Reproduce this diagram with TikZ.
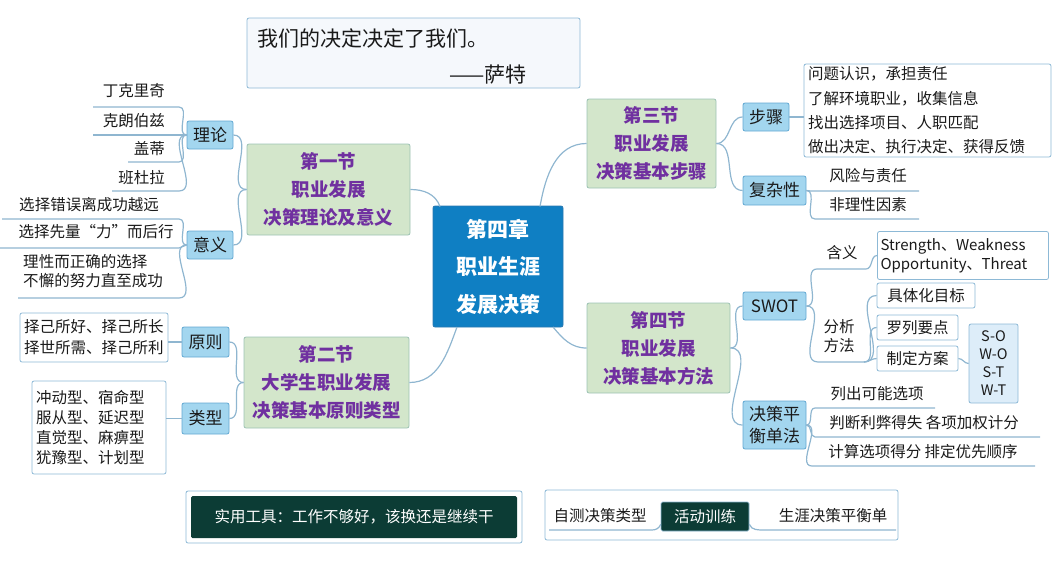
\documentclass[tikz,border=0pt]{standalone}
\usepackage{fontspec}
\setmainfont{Noto Sans CJK SC}
\usetikzlibrary{calc}
\definecolor{lc}{HTML}{8FB6D0}
\definecolor{secf}{HTML}{D3E6CB}
\definecolor{secb}{HTML}{9DC3B4}
\definecolor{purp}{HTML}{7030A0}
\definecolor{lvf}{HTML}{A3D6EF}
\definecolor{lvb}{HTML}{62A8D2}
\definecolor{lbb}{HTML}{8DB9D6}
\definecolor{cenf}{HTML}{0F7FC3}
\definecolor{cenb}{HTML}{2A78B0}
\definecolor{dkg}{HTML}{0C3C35}
\definecolor{qf}{HTML}{F5F8FC}
\definecolor{sof}{HTML}{DDEDF9}
\definecolor{txt}{HTML}{1A1A1A}
\begin{document}
\begin{tikzpicture}[x=1pt,y=-1pt,
  con/.style={draw=lc, line width=1.2pt},
  cen/.style={draw=cenb, fill=cenf, rounded corners=2pt, line width=0.8pt, text=white, align=center, inner sep=0pt, font=\fontsize{21}{37.5}\selectfont\bfseries},
  sec/.style={draw=secb, fill=secf, rounded corners=2pt, line width=0.8pt, text=purp, align=center, inner sep=0pt, font=\fontsize{18.5}{28}\selectfont\bfseries},
  lvl/.style={draw=lvb, fill=lvf, rounded corners=2pt, line width=0.8pt, text=txt, align=center, inner sep=0pt, font=\fontsize{17}{21}\selectfont},
  lbox/.style={draw=lbb, fill=white, rounded corners=2pt, line width=0.8pt, text=txt, inner sep=0pt, font=\fontsize{15.5}{20}\selectfont},
  lt/.style={text=txt, inner sep=0pt, font=\fontsize{15.5}{19}\selectfont},
]
\useasboundingbox (0,0) rectangle (1059,565);

% quote
\node[draw=lbb, fill=qf, rounded corners=2pt, line width=0.8pt, minimum width=333pt, minimum height=70pt, inner sep=0pt] (Q) at (413.5,53) {};
\node[anchor=west, inner sep=0pt, text=txt, font=\fontsize{21}{24}\selectfont] (Q1) at (257,38) {我们的决定决定了我们。};
\node[anchor=east, inner sep=0pt, text=txt, font=\fontsize{21}{24}\selectfont] (Q2) at (527,75) {——萨特};

% center and sections
\node[cen, minimum width=130pt, minimum height=121pt] (C) at (498,266.5) {第四章\\职业生涯\\发展决策};
\node[sec, minimum width=163pt, minimum height=91pt] (S1) at (328.5,189.5) {第一节\\职业发展\\决策理论及意义};
\node[sec, minimum width=165pt, minimum height=91pt] (S2) at (326.5,382.5) {第二节\\大学生职业发展\\决策基本原则类型};
\node[sec, minimum width=129pt, minimum height=89pt] (S3) at (651.5,143.5) {第三节\\职业发展\\决策基本步骤};
\node[sec, minimum width=143pt, minimum height=90pt] (S4) at (658.5,348) {第四节\\职业发展\\决策基本方法};

\coordinate (C1) at (440,206.5);
\coordinate (C2) at (457,327);
\coordinate (C3) at (540,206.5);
\coordinate (C4) at (553,327);
\draw[con] (S1.east) to[out=0,in=110] (C1);
\draw[con] (C2) to[out=250,in=0] (S2.east);
\draw[con] (C3) to[out=80,in=180] (S3.west);
\draw[con] (C4) to[out=-50,in=180] (S4.west);

% level 2
\node[lvl, minimum width=46pt, minimum height=28pt] (L1) at (210,135) {理论};
\node[lvl, minimum width=46pt, minimum height=28pt] (L2) at (210,245) {意义};
\node[lvl, minimum width=47pt, minimum height=30pt] (L3) at (205.5,342) {原则};
\node[lvl, minimum width=47pt, minimum height=31pt] (L4) at (205.5,418.5) {类型};
\node[lvl, minimum width=46pt, minimum height=28pt] (R1) at (766,117) {步骤};
\node[lvl, minimum width=63pt, minimum height=29pt] (R2) at (774.5,190.5) {复杂性};
\node[lvl, minimum width=63pt, minimum height=28pt] (R3) at (774.5,306) {SWOT};
\node[lvl, minimum width=63pt, minimum height=48pt, font=\fontsize{17}{22}\selectfont] (R4) at (774.5,425) {决策平\\衡单法};

\draw[con] (S1.west) to[out=180,in=0] (L1.east);
\draw[con] (S1.west) to[out=180,in=0] (L2.east);
\draw[con] (S2.west) to[out=180,in=0] (L3.east);
\draw[con] (S2.west) to[out=180,in=0] (L4.east);
\draw[con] (S3.east) to[out=0,in=180] (R1.west);
\draw[con] (S3.east) to[out=0,in=180] (R2.west);
\draw[con] (S4.east) to[out=0,in=180] (R3.west);
\draw[con] (S4.east) to[out=0,in=180] (R4.west);

% 理论 leaves
\node[lt, anchor=east] (a1) at (165,91) {丁克里奇};
\node[lt, anchor=east] (a2) at (165,121) {克朗伯兹};
\node[lt, anchor=east] (a3) at (165,149) {盖蒂};
\node[lt, anchor=east] (a4) at (165,178) {班杜拉};
\coordinate (a1s) at (93,107); \coordinate (a1e) at (179,107);
\coordinate (a2s) at (93,135); \coordinate (a2e) at (179,135);
\coordinate (a3s) at (128,162); \coordinate (a3e) at (179,162);
\coordinate (a4s) at (112,191); \coordinate (a4e) at (179,191);
\draw[con] (a1s) -- (a1e) to[out=0,in=180] (L1.west);
\draw[con] (a2s) -- (a2e) to[out=0,in=180] (L1.west);
\draw[con] (a3s) -- (a3e) to[out=0,in=180] (L1.west);
\draw[con] (a4s) -- (a4e) to[out=0,in=180] (L1.west);

% 意义 leaves
\node[lt] (b1) at (89,205) {选择错误离成功越远};
\node[lt] (b2) at (96,232) {选择先量“力”而后行};
\node[lt, align=left] (b3) at (93,271.5) {理性而正确的选择\\不懈的努力直至成功};
\coordinate (b1s) at (2,219); \coordinate (b1e) at (179,219);
\coordinate (b2s) at (0,248); \coordinate (b2e) at (179,248);
\coordinate (b3s) at (18,298); \coordinate (b3e) at (179,298);
\draw[con] (b1s) -- (b1e) to[out=0,in=180] (L2.west);
\draw[con] (b2s) -- (b2e) to[out=0,in=180] (L2.west);
\draw[con] (b3s) -- (b3e) to[out=0,in=180] (L2.west);

% 原则, 类型 boxes
\node[lbox, text width=140pt, inner xsep=4pt, align=left, minimum height=49pt, font=\fontsize{15.5}{21}\selectfont] (P1) at (94,337.5) {择己所好、择己所长\\择世所需、择己所利};
\node[lbox, text width=126pt, inner xsep=4pt, align=left, minimum height=93pt, font=\fontsize{15.5}{19.7}\selectfont] (P2) at (99,427.5) {冲动型、宿命型\\服从型、延迟型\\直觉型、麻痹型\\犹豫型、计划型};
\draw[con] (L3.west) -- (L3.west -| P1.east);
\draw[con] (L4.west) -- (L4.west -| P2.east);

% 步骤 box
\node[lbox, text width=239pt, inner xsep=4pt, align=left, minimum height=93pt, font=\fontsize{15.5}{24.3}\selectfont] (K1) at (927.5,110.5) {问题认识，承担责任\\了解环境职业，收集信息\\找出选择项目、人职匹配\\做出决定、执行决定、获得反馈};
\draw[con] (R1.east) -- (R1.east -| K1.west);

% 复杂性 leaves
\node[lt] (c1) at (868,176) {风险与责任};
\node[lt] (c2) at (868,205) {非理性因素};
\coordinate (c1s) at (811,191); \coordinate (c1e) at (919,191);
\coordinate (c2s) at (815,219); \coordinate (c2e) at (919,219);
\draw[con] (R2.east) to[out=0,in=180] (c1s) -- (c1e);
\draw[con] (R2.east) to[out=0,in=180] (c2s) -- (c2e);

% SWOT
\node[lt] (d1) at (842,253) {含义};
\coordinate (d1s) at (817,269); \coordinate (d1e) at (866,269);
\node[lbox, text width=165pt, inner xsep=3pt, align=left, minimum height=48pt, font=\fontsize{15}{19}\selectfont] (D1) at (963,255.5) {Strength、Weakness\\Opportunity、Threat};
\draw[con] (R3.east) to[out=0,in=180] (d1s) -- (d1e) to[out=0,in=180] (D1.west);

\node[lt, align=left] (d2) at (839,336) {分析\\方法};
\coordinate (d2s) at (818,362); \coordinate (d2e) at (864,362);
\draw[con] (R3.east) to[out=0,in=180] (d2s) -- (d2e);
\node[lbox, minimum width=98pt, minimum height=25pt] (E1) at (926,295.5) {具体化目标};
\node[lbox, minimum width=81pt, minimum height=25pt] (E2) at (917.5,327.5) {罗列要点};
\node[lbox, minimum width=81pt, minimum height=25pt] (E3) at (917.5,358.5) {制定方案};
\draw[con] (d2e) to[out=0,in=180] (E1.west);
\draw[con] (d2e) to[out=0,in=180] (E2.west);
\draw[con] (d2e) to[out=0,in=180] (E3.west);
\node[lbox, fill=sof, align=center, minimum width=49pt, minimum height=79pt, font=\fontsize{14.5}{18}\selectfont] (SO) at (993.5,363.5) {S-O\\W-O\\S-T\\W-T};
\draw[con] (E3.east) to[out=0,in=180] (SO.west);

% 决策平衡单法 leaves
\node[lt] (f1) at (877,394) {列出可能选项};
\node[lt] (f2) at (924,423) {判断利弊得失 各项加权计分};
\node[lt] (f3) at (923,452) {计算选项得分 排定优先顺序};
\coordinate (f1s) at (815,408); \coordinate (f1e) at (935,408);
\coordinate (f2s) at (815,437); \coordinate (f2e) at (1040,437);
\coordinate (f3s) at (812,466); \coordinate (f3e) at (1035,466);
\draw[con] (R4.east) to[out=0,in=180] (f1s) -- (f1e);
\draw[con] (R4.east) to[out=0,in=180] (f2s) -- (f2e);
\draw[con] (R4.east) to[out=0,in=180] (f3s) -- (f3e);

% bottom left
\node[draw=lbb, fill=white, rounded corners=2pt, line width=0.8pt, minimum width=336pt, minimum height=52pt, inner sep=0pt] (T0) at (354,517) {};
\node[fill=dkg, rounded corners=1.5pt, minimum width=326pt, minimum height=42pt, inner sep=0pt, text=white, font=\fontsize{15.5}{19}\selectfont] (T1) at (354,517) {实用工具：工作不够好，该换还是继续干};

% bottom right
\node[draw=lbb, fill=white, rounded corners=2pt, line width=0.8pt, minimum width=353pt, minimum height=50pt, inner sep=0pt] (U0) at (721.5,515) {};
\node[lt] (u1) at (600,516) {自测决策类型};
\node[fill=dkg, draw=lbb, line width=0.6pt, rounded corners=1.5pt, minimum width=88pt, minimum height=29pt, inner sep=0pt, text=white, font=\fontsize{15.5}{19}\selectfont] (U2) at (705,516.5) {活动训练};
\node[lt] (u3) at (833,516) {生涯决策平衡单};
\coordinate (u1s) at (549,530); \coordinate (u1e) at (652,530);
\coordinate (u3s) at (765,530); \coordinate (u3e) at (896,530);
\draw[con] (u1s) -- (u1e) to[out=0,in=250] ($(U2.south west)+(0,-7)$);
\draw[con] ($(U2.south east)+(0,-7)$) to[out=-70,in=180] (u3s) -- (u3e);
\end{tikzpicture}
\end{document}
